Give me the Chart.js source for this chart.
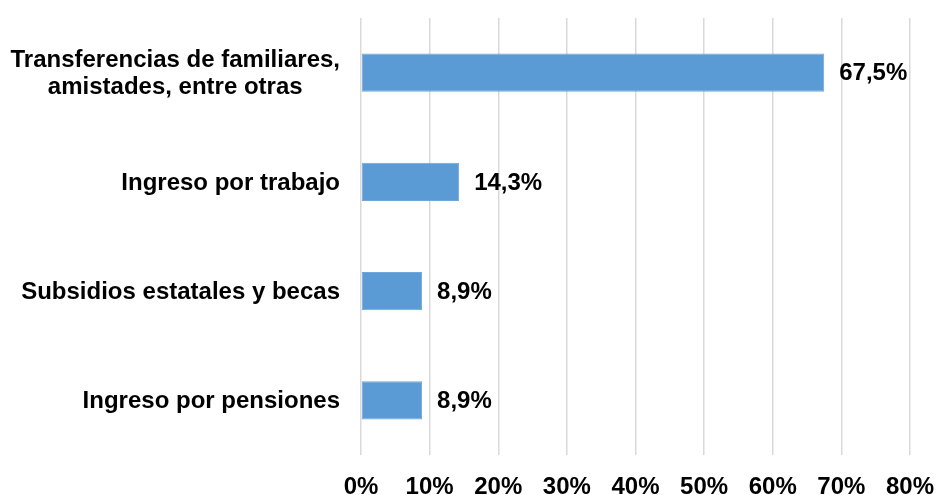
<!DOCTYPE html>
<html>
<head>
<meta charset="utf-8">
<script src="https://cdn.jsdelivr.net/npm/chart.js@4.4.0/dist/chart.umd.min.js"></script>
<style>
  html, body { margin: 0; padding: 0; background: #ffffff; }
  #wrap { width: 938px; height: 495px; }
</style>
</head>
<body>
<div id="wrap"><canvas id="chart" width="938" height="495"></canvas></div>
<script>
// categories, top to bottom (two-line label kept as an array)
const categories = [
    ["Transferencias de familiares,", "amistades, entre otras"],
    ["Ingreso por trabajo"],
    ["Subsidios estatales y becas"],
    ["Ingreso por pensiones"],
];
const values = [67.5, 14.3, 8.9, 8.9];
const xTicks = [0, 10, 20, 30, 40, 50, 60, 70, 80];

const FONT = "'Liberation Sans', Arial, sans-serif";
const FONT_SIZE = 24;
const BAR_COLOR = "#5b9bd5";

// format like the source: comma decimal
const fmtPct = (v) => v.toFixed(1).replace(".", ",") + "%";

// draws value labels right of each bar
const valueLabels = {
    id: "valueLabels",
    afterDatasetsDraw(chart) {
        const ctx = chart.ctx;
        const meta = chart.getDatasetMeta(0);
        ctx.save();
        ctx.font = "bold " + FONT_SIZE + "px " + FONT;
        ctx.fillStyle = "#000000";
        ctx.textAlign = "left";
        ctx.textBaseline = "middle";
        meta.data.forEach((bar, i) => {
            ctx.fillText(fmtPct(values[i]), bar.x + 15, bar.y + 1);
        });
        ctx.restore();
    }
};

// draws category labels; multi-line labels centred on their widest line
const categoryLabels = {
    id: "categoryLabels",
    afterDraw(chart) {
        const ctx = chart.ctx;
        const yScale = chart.scales.y;
        const right = chart.chartArea.left - 21;
        const lineH = 27;
        ctx.save();
        ctx.font = "bold " + FONT_SIZE + "px " + FONT;
        ctx.fillStyle = "#000000";
        ctx.textBaseline = "middle";
        categories.forEach((lines, i) => {
            const cy = yScale.getPixelForTick(i);
            const widest = Math.max(...lines.map(l => ctx.measureText(l).width));
            const cx = right - widest / 2;
            ctx.textAlign = "center";
            lines.forEach((line, j) => {
                const y = cy + (j - (lines.length - 1) / 2) * lineH + 1;
                ctx.fillText(line, cx, y);
            });
        });
        ctx.restore();
    }
};

new Chart(document.getElementById("chart"), {
    type: "bar",
    data: {
        labels: categories.map(c => c.join(" ")),
        datasets: [{
            data: values,
            backgroundColor: BAR_COLOR,
            borderColor: "#6fa7da",
            borderWidth: 1,
            borderSkipped: false,
            barPercentage: 0.7,
            categoryPercentage: 0.5,
        }]
    },
    options: {
        indexAxis: "y",
        responsive: false,
        animation: false,
        layout: { padding: { top: 18, right: 0, left: 0, bottom: 0 } },
        plugins: {
            legend: { display: false },
            tooltip: { enabled: false },
        },
        scales: {
            x: {
                min: 0,
                max: 80,
                afterBuildTicks: (scale) => {
                    scale.ticks = xTicks.map(v => ({ value: v }));
                },
                afterFit: (scale) => {
                    scale.height = 40;
                    scale.paddingRight = 28;
                    scale.paddingLeft = 0;
                },
                grid: {
                    color: "#d9d9d9",
                    lineWidth: 1.5,
                    drawTicks: false,
                },
                border: { display: false },
                ticks: {
                    padding: 18,
                    color: "#000000",
                    font: { family: FONT, size: FONT_SIZE, weight: "bold" },
                    callback: (v) => v + "%",
                    maxRotation: 0,
                },
            },
            y: {
                afterFit: (scale) => { scale.width = 361; },
                grid: { display: false, drawTicks: false },
                border: { display: false },
                ticks: { display: false },
            }
        }
    },
    plugins: [valueLabels, categoryLabels]
});
</script>
</body>
</html>
